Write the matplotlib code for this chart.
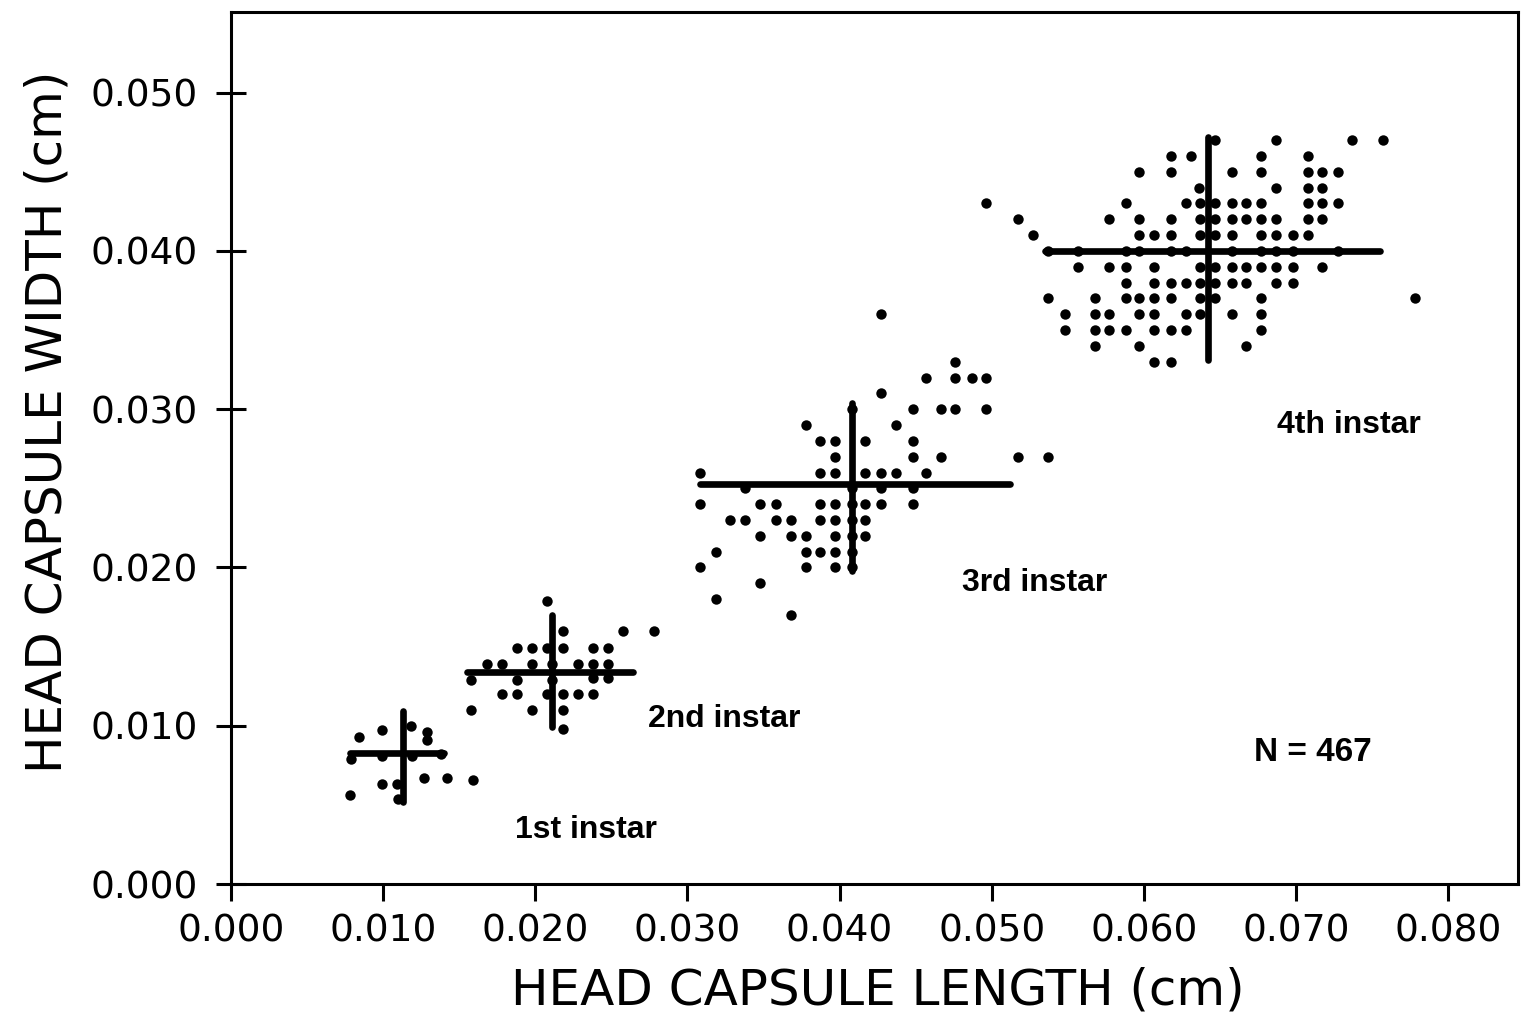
import matplotlib
matplotlib.use("Agg")
import matplotlib.pyplot as plt
from matplotlib.ticker import FormatStrFormatter

# head capsule length / width (cm) for each larval instar
len_1st = [0.0084, 0.0099, 0.0118, 0.0129, 0.0129, 0.0079, 0.0099, 0.0119,
           0.0138, 0.0099, 0.0109, 0.0127, 0.0142, 0.0159, 0.0078, 0.0110]
wid_1st = [0.0093, 0.0097, 0.0100, 0.0096, 0.0091, 0.0079, 0.0081, 0.0081,
           0.0082, 0.0063, 0.0063, 0.0067, 0.0067, 0.0066, 0.0056, 0.0054]

len_2nd = [0.0208,
           0.0218, 0.0258, 0.0278,
           0.0188, 0.0198, 0.0208, 0.0218, 0.0238, 0.0248,
           0.0168, 0.0178, 0.0198, 0.0211, 0.0228, 0.0238, 0.0248,
           0.0158, 0.0188, 0.0211, 0.0238, 0.0248,
           0.0178, 0.0188, 0.0208, 0.0218, 0.0228, 0.0238,
           0.0158, 0.0198, 0.0218,
           0.0218]
wid_2nd = [0.0179,
           0.0160, 0.0160, 0.0160,
           0.0149, 0.0149, 0.0149, 0.0149, 0.0149, 0.0149,
           0.0139, 0.0139, 0.0139, 0.0139, 0.0139, 0.0139, 0.0139,
           0.0129, 0.0129, 0.0129, 0.0130, 0.0130,
           0.0120, 0.0120, 0.0120, 0.0120, 0.0120, 0.0120,
           0.0110, 0.0110, 0.0110,
           0.0098]

len_3rd = [0.0427,
           0.0476,
           0.0457, 0.0476, 0.0487, 0.0496,
           0.0427,
           0.0408, 0.0448, 0.0467, 0.0476, 0.0496,
           0.0378, 0.0437,
           0.0387, 0.0397, 0.0417, 0.0448,
           0.0397, 0.0448, 0.0467, 0.0517, 0.0537,
           0.0308, 0.0387, 0.0397, 0.0417, 0.0427, 0.0437, 0.0457,
           0.0338, 0.0408, 0.0427, 0.0448,
           0.0308, 0.0348, 0.0358, 0.0387, 0.0397, 0.0408, 0.0417, 0.0427, 0.0448,
           0.0328, 0.0338, 0.0358, 0.0368, 0.0387, 0.0397, 0.0408, 0.0417,
           0.0348, 0.0368, 0.0378, 0.0397, 0.0408, 0.0417,
           0.0319, 0.0378, 0.0387, 0.0397, 0.0408,
           0.0308, 0.0378, 0.0397, 0.0408,
           0.0348,
           0.0319,
           0.0368]
wid_3rd = [0.036,
           0.033,
           0.032, 0.032, 0.032, 0.032,
           0.031,
           0.030, 0.030, 0.030, 0.030, 0.030,
           0.029, 0.029,
           0.028, 0.028, 0.028, 0.028,
           0.027, 0.027, 0.027, 0.027, 0.027,
           0.026, 0.026, 0.026, 0.026, 0.026, 0.026, 0.026,
           0.025, 0.025, 0.025, 0.025,
           0.024, 0.024, 0.024, 0.024, 0.024, 0.024, 0.024, 0.024, 0.024,
           0.023, 0.023, 0.023, 0.023, 0.023, 0.023, 0.023, 0.023,
           0.022, 0.022, 0.022, 0.022, 0.022, 0.022,
           0.021, 0.021, 0.021, 0.021, 0.021,
           0.020, 0.020, 0.020, 0.020,
           0.019,
           0.018,
           0.017]

len_4th = [0.0647, 0.0687, 0.0737, 0.0757,
           0.0618, 0.0631, 0.0677, 0.0708,
           0.0597, 0.0618, 0.0658, 0.0677, 0.0708, 0.0717, 0.0728,
           0.0636, 0.0687, 0.0708, 0.0717,
           0.0496, 0.0588, 0.0628, 0.0637, 0.0647, 0.0658, 0.0667, 0.0677,
           0.0708, 0.0717, 0.0728,
           0.0517, 0.0577, 0.0597, 0.0618, 0.0637, 0.0647, 0.0658, 0.0667,
           0.0677, 0.0687, 0.0708, 0.0717,
           0.0527, 0.0597, 0.0607, 0.0618, 0.0637, 0.0647, 0.0658, 0.0677,
           0.0687, 0.0698, 0.0708,
           0.0537, 0.0557, 0.0588, 0.0597, 0.0618, 0.0628, 0.0658, 0.0677,
           0.0687, 0.0698, 0.0728,
           0.0557, 0.0577, 0.0588, 0.0607, 0.0637, 0.0647, 0.0658, 0.0667,
           0.0677, 0.0687, 0.0698, 0.0717,
           0.0588, 0.0607, 0.0618, 0.0628, 0.0637, 0.0647, 0.0658, 0.0667,
           0.0687, 0.0698,
           0.0537, 0.0568, 0.0588, 0.0597, 0.0607, 0.0618, 0.0637, 0.0647,
           0.0677, 0.0778,
           0.0548, 0.0568, 0.0577, 0.0597, 0.0607, 0.0628, 0.0637, 0.0658,
           0.0677,
           0.0548, 0.0568, 0.0577, 0.0588, 0.0607, 0.0618, 0.0628, 0.0677,
           0.0568, 0.0597, 0.0667,
           0.0607, 0.0618]
wid_4th = [0.047, 0.047, 0.047, 0.047,
           0.046, 0.046, 0.046, 0.046,
           0.045, 0.045, 0.045, 0.045, 0.045, 0.045, 0.045,
           0.044, 0.044, 0.044, 0.044,
           0.043, 0.043, 0.043, 0.043, 0.043, 0.043, 0.043, 0.043,
           0.043, 0.043, 0.043,
           0.042, 0.042, 0.042, 0.042, 0.042, 0.042, 0.042, 0.042,
           0.042, 0.042, 0.042, 0.042,
           0.041, 0.041, 0.041, 0.041, 0.041, 0.041, 0.041, 0.041,
           0.041, 0.041, 0.041,
           0.040, 0.040, 0.040, 0.040, 0.040, 0.040, 0.040, 0.040,
           0.040, 0.040, 0.040,
           0.039, 0.039, 0.039, 0.039, 0.039, 0.039, 0.039, 0.039,
           0.039, 0.039, 0.039, 0.039,
           0.038, 0.038, 0.038, 0.038, 0.038, 0.038, 0.038, 0.038,
           0.038, 0.038,
           0.037, 0.037, 0.037, 0.037, 0.037, 0.037, 0.037, 0.037,
           0.037, 0.037,
           0.036, 0.036, 0.036, 0.036, 0.036, 0.036, 0.036, 0.036,
           0.036,
           0.035, 0.035, 0.035, 0.035, 0.035, 0.035, 0.035, 0.035,
           0.034, 0.034, 0.034,
           0.033, 0.033]

# cross for each instar: mean length / width and the span of each bar
instars = ["1st instar", "2nd instar", "3rd instar", "4th instar"]
mean_len = [0.0113, 0.0211, 0.0408, 0.0642]
mean_wid = [0.0083, 0.0134, 0.0253, 0.0400]
len_lo = [0.0078, 0.0155, 0.0308, 0.0535]
len_hi = [0.0140, 0.0264, 0.0512, 0.0755]
wid_lo = [0.0052, 0.0099, 0.0198, 0.0331]
wid_hi = [0.0109, 0.0170, 0.0304, 0.0472]

# where each instar label sits (data coords)
label_x = [0.0233, 0.0324, 0.0528, 0.0735]
label_y = [0.0034, 0.0104, 0.0190, 0.0290]
n_total = 467

fig = plt.figure(figsize=(15.26, 10.22), dpi=100)
fig.patch.set_facecolor("white")
ax = fig.add_axes([231 / 1526, 138 / 1022, 1287 / 1526, 872 / 1022])

for xs, ys in [(len_1st, wid_1st), (len_2nd, wid_2nd),
               (len_3rd, wid_3rd), (len_4th, wid_4th)]:
    ax.plot(xs, ys, "o", color="black", markersize=7.5,
            markeredgewidth=0, zorder=3)

for i in range(len(instars)):
    ax.plot([len_lo[i], len_hi[i]], [mean_wid[i], mean_wid[i]],
            color="black", lw=4.8, solid_capstyle="round", zorder=4)
    ax.plot([mean_len[i], mean_len[i]], [wid_lo[i], wid_hi[i]],
            color="black", lw=4.8, solid_capstyle="round", zorder=4)
    ax.text(label_x[i], label_y[i], instars[i], ha="center", va="center",
            fontsize=23, fontweight="bold", family="Liberation Sans")

ax.text(0.0711, 0.0083, f"N = {n_total}", ha="center", va="center",
        fontsize=24, fontweight="bold", family="Liberation Sans")

ax.set_xlim(0, 0.0846)
ax.set_ylim(0, 0.0551)
ax.set_xticks([t * 0.01 for t in range(9)])
ax.set_yticks([t * 0.01 for t in range(6)])
ax.xaxis.set_major_formatter(FormatStrFormatter("%.3f"))
ax.yaxis.set_major_formatter(FormatStrFormatter("%.3f"))

for side in ax.spines.values():
    side.set_linewidth(2.2)
ax.tick_params(axis="y", direction="inout", length=22, width=2.2,
               pad=13, labelsize=27)
ax.tick_params(axis="x", direction="out", length=12, width=2.2,
               pad=9, labelsize=27)

fig.text(878 / 1526, 1 - 990 / 1022, "HEAD CAPSULE LENGTH (cm)",
         ha="center", va="center", fontsize=36)
fig.text(48 / 1526, 1 - 422 / 1022, "HEAD CAPSULE WIDTH (cm)",
         ha="center", va="center", fontsize=36, rotation=90)

fig.savefig("out.png", dpi=100, facecolor="white")
